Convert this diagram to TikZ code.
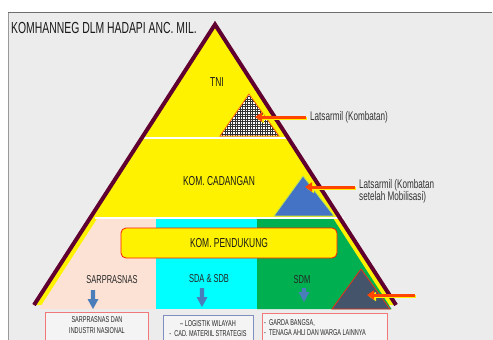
\documentclass[tikz,border=0pt]{standalone}
\usepackage{fontspec}
\setmainfont{Liberation Sans}[FakeStretch=0.65]
\usetikzlibrary{arrows.meta}
\definecolor{bggray}{HTML}{ECECEC}
\definecolor{framegray}{HTML}{6E6E6E}
\definecolor{pyrmaroon}{HTML}{600030}
\definecolor{peach}{HTML}{FBE2D5}
\definecolor{sdacyan}{HTML}{00FFFF}
\definecolor{sdmgreen}{HTML}{00B050}
\definecolor{triblue}{HTML}{4472C4}
\definecolor{slate}{HTML}{44546A}
\definecolor{redor}{HTML}{FF4500}
\definecolor{arrblue}{HTML}{4A7EBB}
\definecolor{boxred}{HTML}{F07878}
\definecolor{boxblue}{HTML}{7F90C0}
\newcommand{\blkarrow}[4]{\fill[arrblue] (#1-2.2,#2) -- (#1+2.2,#2) -- (#1+2.2,#3-#4) -- (#1+5.5,#3-#4) -- (#1,#3) -- (#1-5.5,#3-#4) -- (#1-2.2,#3-#4) -- cycle;}
\begin{document}
\begin{tikzpicture}[x=1pt,y=-1pt,
  layertxt/.style={font=\fontsize{13}{13}\selectfont, inner sep=0, text=black!90},
  midtxt/.style={font=\fontsize{11.5}{12}\selectfont, inner sep=0, text=black!85},
  lbl/.style={font=\fontsize{12.5}{12}\selectfont, inner sep=0, text=black!80, align=left},
  boxtxt/.style={inner sep=0, text=black!85},
  bottombox/.style={line width=0.8pt, fill=bggray!60!white, anchor=north west, inner sep=0},
  redarrow/.style={draw=redor, line width=3pt, -{Triangle[length=7pt,width=9pt]}},
  yelshadow/.style={draw=yellow, line width=3pt, -{Triangle[length=7pt,width=9pt]}},
  sepline/.style={draw=white, line width=2pt}
]
\useasboundingbox (0,0) rectangle (493,340);
\fill[white] (0,0) rectangle (493,340);
% frame
\fill[bggray] (8,12) rectangle (493,340);
\draw[black!40, line width=1pt] (8,340) -- (8,12.5);
\draw[framegray, line width=1.5pt] (8,12.5) -- (492,12.5);
% title
\node[anchor=west, font=\fontsize{16}{16}\selectfont, text=black!90, inner sep=0] (title) at (11,28) {KOMHANNEG DLM HADAPI ANC. MIL.};
% pyramid body
\fill[yellow] (34,305) -- (215,24.5) -- (396,305) -- cycle;
% bottom band
\fill[peach] (97,219) -- (156,219) -- (156,309) -- (39,309) -- cycle;
\fill[sdacyan] (156,219) rectangle (257,309);
\fill[sdmgreen] (257,219) -- (333.5,219) -- (391.5,309) -- (257,309) -- cycle;
% separators
\draw[sepline] (143,137.5) -- (288,137.5);
\draw[sepline] (95,218) -- (344,218);
% outer border
\draw[pyrmaroon, line width=4pt, line join=miter] (34,305) -- (215,24.5) -- (396,305);
% inner triangles
\fill[white] (220,136) -- (249,94) -- (279,136) -- cycle;
\begin{scope}
  \clip (220,136) -- (249,94) -- (279,136) -- cycle;
  \foreach \gx in {220,222.5,...,281} {\draw[black!80, line width=0.35pt] (\gx,92) -- (\gx,138);}
  \foreach \gy in {94,96.5,...,137} {\draw[black!80, line width=0.35pt] (218,\gy) -- (281,\gy);}
\end{scope}
\draw[orange!80!red, line width=0.8pt] (220,136) -- (249,94) -- (279,136) -- cycle;
\filldraw[fill=triblue, draw=yellow!60!green!70!white, line width=0.8pt] (274,216) -- (303,176) -- (334,216) -- cycle;
\filldraw[fill=slate, draw=red!60!brown, line width=0.8pt] (332,309) -- (361,269) -- (390,309) -- cycle;
% layer texts
\node[layertxt] (tni) at (217,82) {TNI};
\node[layertxt] (cad) at (219,181) {KOM. CADANGAN};
\node[rounded corners=5pt, draw=red!80!orange, line width=0.8pt, fill=yellow, minimum width=216pt, minimum height=30pt, layertxt] (pend) at (229,243) {KOM. PENDUKUNG};
\node[midtxt] (sarp) at (112,280) {SARPRASNAS};
\node[midtxt] (sda) at (209,279) {SDA \& SDB};
\node[midtxt] (sdm) at (302,280) {SDM};
% blue down arrows
\blkarrow{93}{290}{309}{10}
\blkarrow{202}{288}{307}{10}
\blkarrow{304}{288}{302}{10}
% labels and red arrows
\node[lbl, anchor=west] (lat1) at (310,117) {Latsarmil (Kombatan)};
\node[lbl, anchor=west] (lat2) at (359,191) {Latsarmil (Kombatan\\setelah Mobilisasi)};
\coordinate (t1) at (255,117);
\coordinate (t2) at (305,187);
\coordinate (t3) at (367,295);
\coordinate (s3) at (415,295);
\draw[yelshadow] ([shift={(-3,1.5)}]lat1.west |- t1) -- ([shift={(2,1.5)}]t1);
\draw[redarrow] ([shift={(-4,0)}]lat1.west |- t1) -- (t1);
\draw[yelshadow] ([shift={(-3,1.5)}]lat2.west |- t2) -- ([shift={(2,1.5)}]t2);
\draw[redarrow] ([shift={(-4,0)}]lat2.west |- t2) -- (t2);
\draw[yelshadow] ([shift={(1,1.5)}]s3) -- ([shift={(2,1.5)}]t3);
\draw[redarrow] (s3) -- (t3);
% bottom boxes
\node[bottombox, draw=boxred, minimum width=103pt, minimum height=45pt] (b1) at (45,312) {};
\node[bottombox, draw=boxblue, minimum width=90pt, minimum height=45pt] (b2) at (163,315) {};
\node[bottombox, draw=boxred, minimum width=125pt, minimum height=45pt] (b3) at (262,313) {};
\node[boxtxt, align=center, font=\fontsize{8.5}{11}\selectfont] (b1t) at (97,325.5) {SARPRASNAS DAN\\INDUSTRI NASIONAL};
\node[boxtxt, align=center, font=\fontsize{8.5}{10}\selectfont] (b2t) at (208,329) {-- LOGISTIK WILAYAH\\-\ \ CAD. MATERIIL STRATEGIS};
\node[boxtxt, align=left, anchor=west, font=\fontsize{8.5}{10}\selectfont] (b3t) at (264,328) {-\ \ GARDA BANGSA,\\-\ \ TENAGA AHLI DAN WARGA LAINNYA};
\end{tikzpicture}
\end{document}
